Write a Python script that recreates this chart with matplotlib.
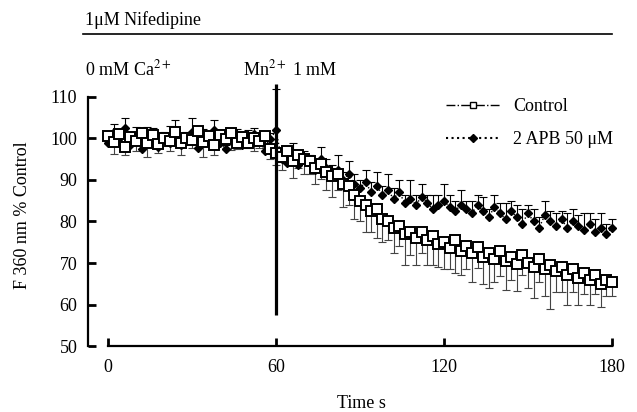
import numpy as np
import matplotlib.pyplot as plt
from matplotlib.lines import Line2D

plt.rcParams['font.family'] = ['Liberation Serif', 'DejaVu Serif']
plt.rcParams['mathtext.fontset'] = 'stix'

# Temps (s), un point toutes les 2 s
t = np.arange(0, 182, 2)

# Controle (moyenne et erreur vers le bas)
control = [100.5, 99.2, 101.0, 98.0, 100.3, 99.5, 101.2, 99.0, 100.8, 98.6,
           100.1, 99.4, 101.5, 98.9, 100.2, 99.7, 101.8, 99.1, 100.5, 98.5,
           100.9, 99.8, 101.3, 99.0, 100.4, 98.8, 100.0, 99.3, 100.6, 97.5,
           96.5,
           95.5, 97.0, 94.5, 96.0, 95.0,
           94.5, 93.0, 93.8, 92.0, 91.0, 91.5, 89.0, 88.5, 86.5, 85.0,
           84.0, 82.5, 83.0, 80.5, 80.0, 78.5, 79.0, 77.0, 77.5, 76.0,
           77.5, 75.5, 76.5, 74.5, 75.0, 73.5, 75.5, 73.0, 74.0, 72.5,
           73.8, 71.5, 72.5, 71.0, 72.8, 70.5, 71.5, 69.8, 72.0, 70.0,
           69.0, 71.0, 68.5, 69.5, 68.0, 69.0, 67.0, 68.5, 66.5, 67.5,
           66.0, 67.0, 65.0, 66.0, 65.5]
control_err = [1.5, 3.0, 1.0, 2.0, 1.2, 2.5, 1.0, 3.5, 1.5, 2.0,
               1.0, 2.5, 1.5, 3.0, 1.0, 2.0, 1.5, 3.5, 1.0, 2.5,
               1.5, 2.0, 4.0, 1.5, 2.0, 1.0, 3.0, 1.5, 2.0, 2.5,
               3.0,
               3.0, 2.5, 4.0, 3.0, 3.5,
               3.0, 4.0, 3.5, 4.5, 5.0, 4.0, 5.5, 4.5, 6.0, 5.0,
               6.5, 5.0, 7.0, 5.5, 4.5, 6.0, 5.0, 7.5, 5.5, 6.5,
               5.0, 6.0, 7.0, 5.5, 6.5, 5.0, 8.0, 6.0, 5.5, 7.0,
               5.0, 6.5, 8.5, 5.5, 6.0, 7.0, 5.5, 6.5, 5.0, 6.0,
               7.5, 5.5, 6.5, 10.5, 5.0, 6.0, 7.0, 5.5, 6.5, 5.0,
               6.0, 4.5, 5.5, 4.0, 3.5]

# 2 APB 50 uM (moyenne et erreur vers le haut)
apb = [99.0, 101.5, 100.0, 102.5, 98.5, 100.8, 97.5, 99.8, 101.0, 98.0,
       100.5, 99.0, 102.0, 98.5, 99.5, 101.5, 97.8, 100.2, 98.8, 102.0,
       99.0, 97.5, 100.5, 99.8, 98.5, 100.0, 101.0, 99.5, 97.0, 99.8,
       102.0,
       95.0, 94.0, 96.5, 93.5, 95.5,
       94.0, 92.5, 95.0, 93.0, 91.0, 92.5, 90.0, 91.5, 89.0, 88.0,
       89.5, 87.0, 88.5, 86.5, 87.5, 85.5, 87.0, 84.5, 85.5, 84.0,
       86.0, 84.5, 83.0, 84.0, 85.0, 83.5, 82.5, 84.0, 83.0, 82.0,
       84.0, 82.5, 81.0, 83.5, 82.0, 80.5, 82.5, 81.0, 79.5, 82.0,
       80.0, 78.5, 81.5, 80.0, 79.0, 80.5, 78.5, 80.0, 79.0, 78.0,
       79.5, 77.5, 78.5, 77.0, 78.5]
apb_err = [1.5, 2.0, 1.0, 2.5, 1.5, 2.0, 1.0, 3.0, 1.5, 2.0,
           1.0, 4.0, 2.5, 1.5, 2.0, 3.5, 1.0, 2.0, 1.5, 2.5,
           2.0, 1.0, 1.5, 2.5, 1.0, 2.0, 1.5, 1.0, 2.5, 1.5,
           10.0,
           2.0, 1.5, 2.5, 2.0, 1.5,
           2.0, 2.5, 3.0, 2.0, 2.5, 3.5, 2.0, 3.0, 2.5, 2.0,
           3.0, 2.5, 3.5, 2.0, 4.0, 2.5, 3.0, 2.0, 4.5, 2.5,
           3.0, 2.0, 3.5, 2.5, 4.0, 3.0, 2.5, 3.5, 2.0, 3.0,
           2.5, 3.5, 2.0, 3.0, 2.5, 4.0, 2.5, 3.0, 3.5, 2.0,
           3.0, 2.5, 3.5, 2.5, 3.0, 2.0, 3.5, 3.0, 2.5, 4.0,
           2.5, 3.0, 3.5, 2.5, 2.0]

fig = plt.figure(figsize=(6.37, 4.12), dpi=100)
ax = fig.add_axes([0.1388, 0.160, 0.857, 0.635])

ax.errorbar(t, control, yerr=[control_err, np.zeros(len(t))], fmt='none',
            ecolor='#444444', elinewidth=0.8, capsize=3, capthick=0.8)
ax.errorbar(t, apb, yerr=[np.zeros(len(t)), apb_err], fmt='none',
            ecolor='black', elinewidth=0.8, capsize=3, capthick=0.8)
ax.plot(t, apb, ':', color='black', lw=1, marker='D', ms=4.5,
        mfc='black', mec='black')
ax.plot(t, control, '-.', color='black', lw=0.8, marker='s', ms=6.5,
        mfc='white', mec='black', mew=1.4)

# Ajout du Mn2+ a 60 s
ax.vlines(60, 57.5, 113, color='black', lw=2.3)

ax.set_xlim(-7, 188)
ax.set_ylim(50, 113)
ax.set_xticks([0, 60, 120, 180])
ax.set_yticks([50, 60, 70, 80, 90, 100, 110])
ax.spines['top'].set_visible(False)
ax.spines['right'].set_visible(False)
ax.spines['bottom'].set_bounds(0, 180)
ax.spines['left'].set_bounds(50, 110)
for s in ['left', 'bottom']:
    ax.spines[s].set_linewidth(1.6)
ax.tick_params(direction='in', length=6, width=2, labelsize=13)
ax.tick_params(axis='x', pad=9)
ax.tick_params(axis='y', pad=8)
ax.set_xlabel("Time s", fontsize=13, labelpad=14)
ax.set_ylabel("F 360 nm % Control", fontsize=13, labelpad=14)

handles = [Line2D([], [], ls='-.', color='black', lw=1, marker='s', ms=5,
                  mfc='white', mec='black'),
           Line2D([], [], ls=':', color='black', lw=1.5, marker='D', ms=4,
                  mfc='black', mec='black')]
fig.legend(handles, ["Control", "2 APB 50 \u03bcM"], loc='upper left',
           bbox_to_anchor=(430 / 637, 1 - 82 / 412), frameon=False,
           fontsize=13, handlelength=3.0, handletextpad=0.7,
           labelspacing=0.9)

# Annotations du haut
fig.text(85 / 637, 1 - 25 / 412, "1\u03bcM Nifedipine", fontsize=13)
fig.add_artist(Line2D([83 / 637, 612 / 637], [1 - 34 / 412, 1 - 34 / 412],
                      color='black', lw=1.2))
fig.text(85 / 637, 1 - 75 / 412, "0 mM Ca$^{2+}$", fontsize=13)
fig.text(243 / 637, 1 - 75 / 412, "Mn$^{2+}$ 1 mM", fontsize=13)

fig.savefig("out.png", dpi=100)
